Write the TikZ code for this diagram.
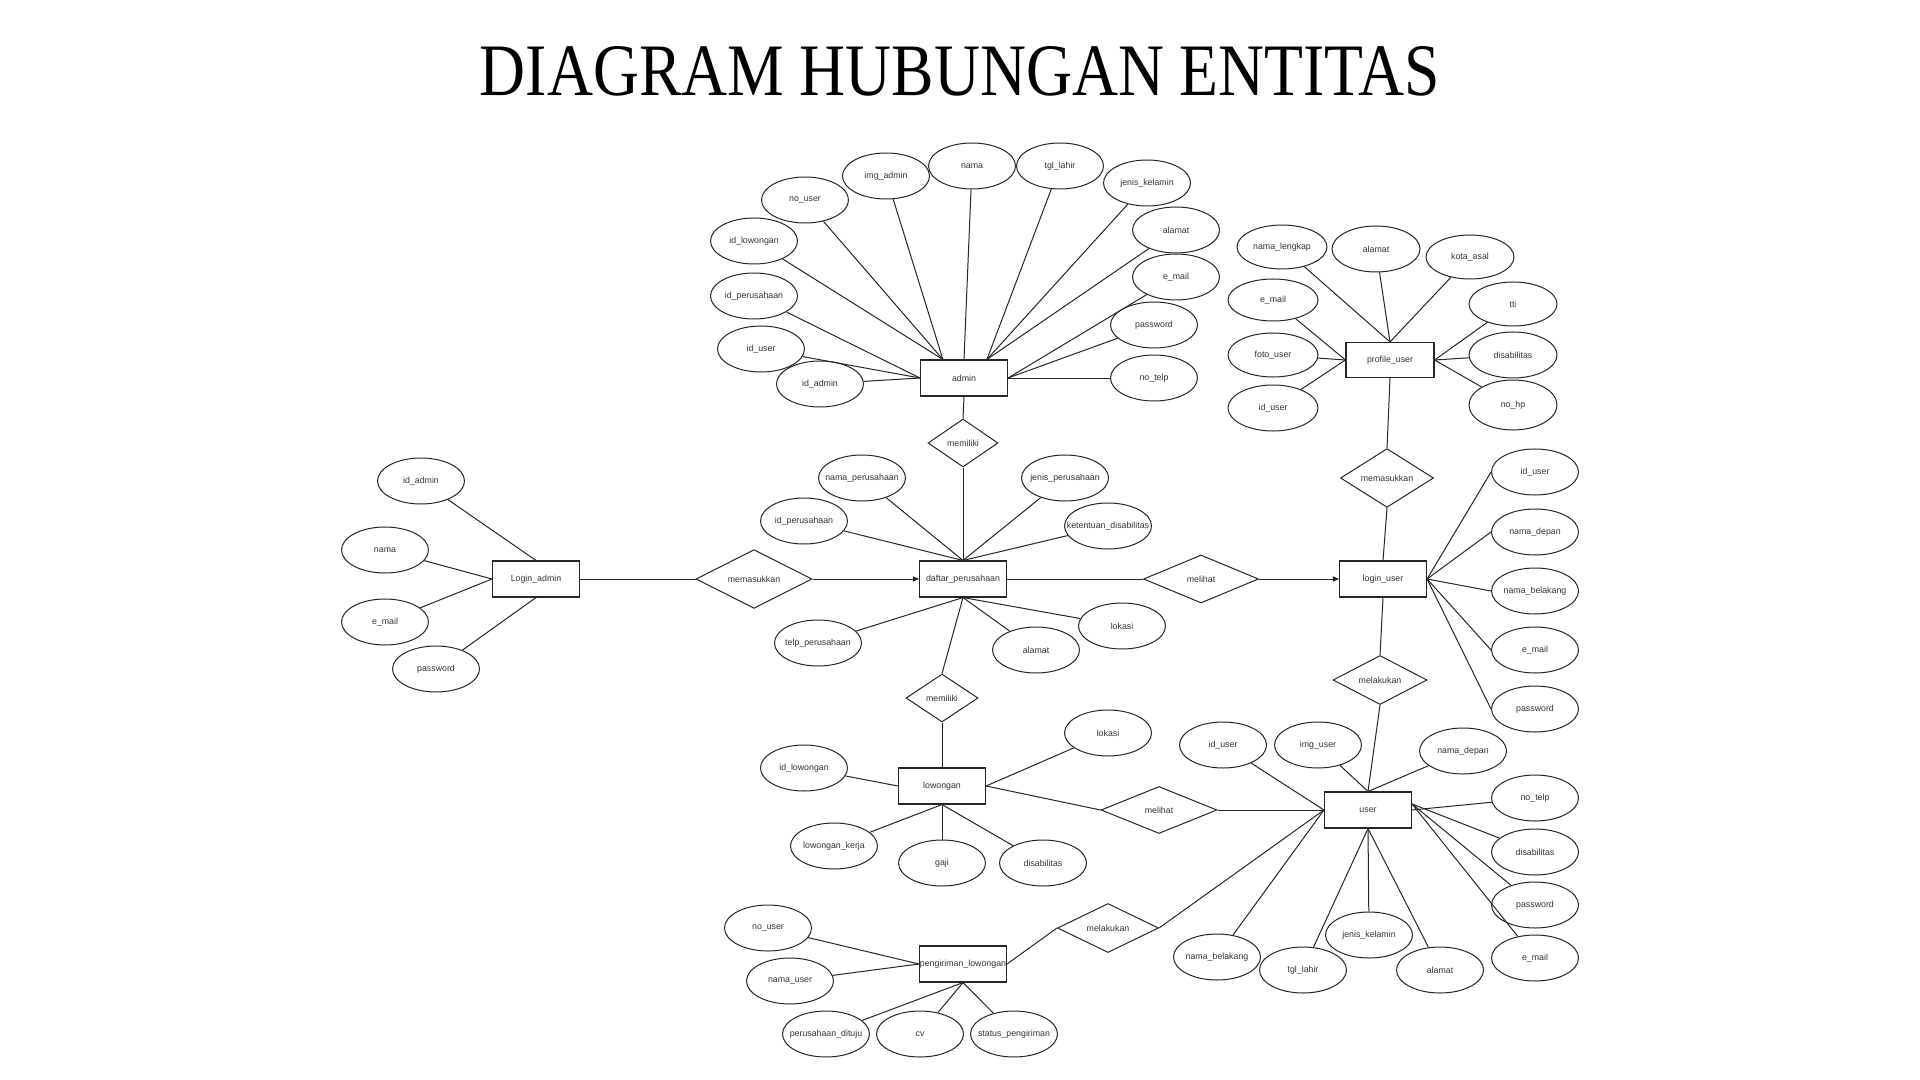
\documentclass[tikz,border=0pt]{standalone}
\usepackage{graphicx}
\usepackage{fontspec}
\setmainfont{Liberation Sans}
\newfontfamily\titlefont{Liberation Serif}
\usetikzlibrary{shapes.geometric,arrows.meta,calc}
\newcommand\erlabel[1]{\makebox[0pt]{#1}}
\begin{document}
\begin{tikzpicture}[x=0.5pt,y=-0.5pt,
  every node/.style={font=\fontsize{4.4}{5}\selectfont, text=black!80},
  attr/.style={ellipse, draw=black!85, line width=0.5pt, minimum width=43.5pt, minimum height=23pt, inner sep=0pt},
  ent/.style={rectangle, draw=black!85, line width=0.55pt, minimum width=43.5pt, minimum height=18pt, inner sep=0pt},
  rel/.style={diamond, draw=black!85, line width=0.5pt, inner sep=0pt},
  conn/.style={draw=black!85, line width=0.5pt},
  arr/.style={conn, -{Triangle[length=3pt,width=2.6pt]}}
]
\fill[white] (0,0) rectangle (1920,1080);
\useasboundingbox (0,0) rectangle (1920,1080);

% title
\node[anchor=base, font=\titlefont\fontsize{37}{40}\selectfont, text=black] (title) at (960,95.5) {\scalebox{0.86}[1]{DIAGRAM HUBUNGAN ENTITAS}};

% ---------- admin ----------
\node[ent] (admin) at (964,378) {\erlabel{admin}};
\node[attr] (adm-nama) at (972,166) {\erlabel{nama}};
\node[attr] (adm-tgl) at (1060,166) {\erlabel{tgl\_lahir}};
\node[attr] (adm-img) at (886,176) {\erlabel{img\_admin}};
\node[attr] (adm-jk) at (1147,183) {\erlabel{jenis\_kelamin}};
\node[attr] (adm-nouser) at (805,200) {\erlabel{no\_user}};
\node[attr] (adm-alamat) at (1176,230) {\erlabel{alamat}};
\node[attr] (adm-idlow) at (754,241) {\erlabel{id\_lowongan}};
\node[attr] (adm-email) at (1176,277) {\erlabel{e\_mail}};
\node[attr] (adm-idper) at (754,296) {\erlabel{id\_perusahaan}};
\node[attr] (adm-pass) at (1154,325) {\erlabel{password}};
\node[attr] (adm-iduser) at (761,349) {\erlabel{id\_user}};
\node[attr] (adm-idadmin) at (820,384) {\erlabel{id\_admin}};
\node[attr] (adm-notelp) at (1154,378) {\erlabel{no\_telp}};
\coordinate (admTL) at ($(admin.north west)!0.26!(admin.north east)$);
\coordinate (admTR) at ($(admin.north west)!0.76!(admin.north east)$);
\draw[conn] (adm-idlow) -- (admTL);
\draw[conn] (adm-nouser) -- (admTL);
\draw[conn] (adm-img) -- (admTL);
\draw[conn] (adm-nama) -- (admin.north);
\draw[conn] (adm-tgl) -- (admTR);
\draw[conn] (adm-jk) -- (admTR);
\draw[conn] (adm-alamat) -- (admTR);
\draw[conn] (adm-email) -- (admin.east);
\draw[conn] (adm-pass) -- (admin.east);
\draw[conn] (adm-notelp) -- (admin.east);
\draw[conn] (adm-idper) -- (admin.west);
\draw[conn] (adm-iduser) -- (admin.west);
\draw[conn] (adm-idadmin) -- (admin.west);

% ---------- daftar_perusahaan ----------
\node[rel, minimum width=35pt, minimum height=24pt] (memiliki1) at (963,443) {memiliki};
\node[ent] (daftar) at (963,579) {\erlabel{daftar\_perusahaan}};
\node[attr] (dp-nama) at (862,478) {\erlabel{nama\_perusahaan}};
\node[attr] (dp-jenis) at (1065,478) {\erlabel{jenis\_perusahaan}};
\node[attr] (dp-id) at (804,521) {\erlabel{id\_perusahaan}};
\node[attr] (dp-ket) at (1108,526) {\erlabel{ketentuan\_disabilitas}};
\node[attr] (dp-lokasi) at (1122,626) {\erlabel{lokasi}};
\node[attr] (dp-alamat) at (1036,650) {\erlabel{alamat}};
\node[attr] (dp-telp) at (818,643) {\erlabel{telp\_perusahaan}};
\draw[conn] (admin.south) -- (memiliki1.north);
\draw[conn] (memiliki1.south) -- (daftar.north);
\draw[conn] (dp-nama) -- (daftar.north);
\draw[conn] (dp-jenis) -- (daftar.north);
\draw[conn] (dp-id) -- (daftar.north);
\draw[conn] (dp-ket) -- (daftar.north);
\draw[conn] (dp-lokasi) -- (daftar.south);
\draw[conn] (dp-alamat) -- (daftar.south);
\draw[conn] (dp-telp) -- (daftar.south);

% ---------- Login_admin ----------
\node[ent] (ladmin) at (536,579) {\erlabel{Login\_admin}};
\node[attr] (la-id) at (421,481) {\erlabel{id\_admin}};
\node[attr] (la-nama) at (385,550) {\erlabel{nama}};
\node[attr] (la-email) at (385,622) {\erlabel{e\_mail}};
\node[attr] (la-pass) at (436,669) {\erlabel{password}};
\draw[conn] (la-id) -- (ladmin.north);
\draw[conn] (la-nama) -- (ladmin.west);
\draw[conn] (la-email) -- (ladmin.west);
\draw[conn] (la-pass) -- (ladmin.south);
\node[rel, minimum width=58pt, minimum height=24pt] (memasukkan1) at (754,579) {memasukkan};
\draw[conn] (ladmin.east) -- (memasukkan1.west);
\draw[arr] (memasukkan1.east) -- (daftar.west);

% ---------- login_user ----------
\node[rel, minimum width=57.5pt, minimum height=24pt] (melihat1) at (1201,579) {melihat};
\node[ent] (luser) at (1383,579) {\erlabel{login\_user}};
\draw[conn] (daftar.east) -- (melihat1.west);
\draw[arr] (melihat1.east) -- (luser.west);
\node[attr] (lu-id) at (1535,472) {\erlabel{id\_user}};
\node[attr] (lu-depan) at (1535,532) {\erlabel{nama\_depan}};
\node[attr] (lu-belakang) at (1535,591) {\erlabel{nama\_belakang}};
\node[attr] (lu-email) at (1535,650) {\erlabel{e\_mail}};
\node[attr] (lu-pass) at (1535,709) {\erlabel{password}};
\draw[conn] (luser.east) -- (lu-id.west);
\draw[conn] (luser.east) -- (lu-depan.west);
\draw[conn] (luser.east) -- (lu-belakang.west);
\draw[conn] (luser.east) -- (lu-email.west);
\draw[conn] (luser.east) -- (lu-pass.west);

% ---------- profile_user ----------
\node[ent, minimum width=44pt, minimum height=17.5pt] (profile) at (1390,360) {\erlabel{profile\_user}};
\node[attr, minimum width=45pt, minimum height=22pt] (pu-nama) at (1282,247) {\erlabel{nama\_lengkap}};
\node[attr, minimum width=44pt] (pu-alamat) at (1376,249) {\erlabel{alamat}};
\node[attr, minimum width=44pt, minimum height=22pt] (pu-kota) at (1470,257) {\erlabel{kota\_asal}};
\node[attr, minimum width=44pt, minimum height=22pt] (pu-tti) at (1513,304) {\erlabel{tti}};
\node[attr, minimum width=45pt, minimum height=21pt] (pu-email) at (1273,300) {\erlabel{e\_mail}};
\node[attr, minimum width=45pt, minimum height=22pt] (pu-foto) at (1273,355) {\erlabel{foto\_user}};
\node[attr, minimum width=44pt, minimum height=23pt] (pu-dis) at (1513,355) {\erlabel{disabilitas}};
\node[attr, minimum width=45pt, minimum height=23pt] (pu-id) at (1273,408) {\erlabel{id\_user}};
\node[attr, minimum width=44pt, minimum height=25pt] (pu-nohp) at (1513,405) {\erlabel{no\_hp}};
\draw[conn] (pu-nama) -- (profile.north);
\draw[conn] (pu-alamat) -- (profile.north);
\draw[conn] (pu-kota) -- (profile.north);
\draw[conn] (pu-email) -- (profile.west);
\draw[conn] (pu-foto) -- (profile.west);
\draw[conn] (pu-id) -- (profile.west);
\draw[conn] (pu-tti) -- (profile.east);
\draw[conn] (pu-dis) -- (profile.east);
\draw[conn] (pu-nohp) -- (profile.east);
\node[rel, minimum width=46.5pt, minimum height=23.5pt] (memasukkan2) at (1387,478) {memasukkan};
\draw[conn] (profile.south) -- (memasukkan2.north);
\draw[conn] (memasukkan2.south) -- (luser.north);
\node[rel, minimum width=47pt, minimum height=23.5pt] (melakukan1) at (1380,680) {melakukan};
\draw[conn] (luser.south) -- (melakukan1.north);

% ---------- lowongan ----------
\node[rel, minimum width=36pt, minimum height=24pt] (memiliki2) at (942,698) {memiliki};
\node[ent] (lowongan) at (942,786) {\erlabel{lowongan}};
\draw[conn] (daftar.south) -- (memiliki2.north);
\draw[conn] (memiliki2.south) -- (lowongan.north);
\node[attr] (lw-lokasi) at (1108,733) {\erlabel{lokasi}};
\node[attr] (lw-id) at (804,768) {\erlabel{id\_lowongan}};
\node[attr] (lw-kerja) at (834,846) {\erlabel{lowongan\_kerja}};
\node[attr] (lw-gaji) at (942,863) {\erlabel{gaji}};
\node[attr] (lw-dis) at (1043,863) {\erlabel{disabilitas}};
\draw[conn] (lw-id) -- (lowongan.west);
\draw[conn] (lw-lokasi) -- (lowongan.east);
\draw[conn] (lw-kerja) -- (lowongan.south);
\draw[conn] (lw-gaji) -- (lowongan.south);
\draw[conn] (lw-dis) -- (lowongan.south);
\node[rel, minimum width=58pt, minimum height=23.5pt] (melihat2) at (1159,810) {melihat};
\draw[conn] (lowongan.east) -- (melihat2.west);

% ---------- user ----------
\node[ent] (user) at (1368,810) {\erlabel{user}};
\draw[conn] (melihat2.east) -- (user.west);
\draw[conn] (melakukan1.south) -- (user.north);
\node[attr] (us-id) at (1223,745) {\erlabel{id\_user}};
\node[attr] (us-img) at (1318,745) {\erlabel{img\_user}};
\node[attr] (us-depan) at (1463,751) {\erlabel{nama\_depan}};
\node[attr] (us-telp) at (1535,798) {\erlabel{no\_telp}};
\node[attr] (us-dis) at (1535,852) {\erlabel{disabilitas}};
\node[attr] (us-pass) at (1535,905) {\erlabel{password}};
\node[attr] (us-email) at (1535,958) {\erlabel{e\_mail}};
\node[attr] (us-jk) at (1369,935) {\erlabel{jenis\_kelamin}};
\node[attr] (us-belakang) at (1217,957) {\erlabel{nama\_belakang}};
\node[attr] (us-tgl) at (1303,970) {\erlabel{tgl\_lahir}};
\node[attr] (us-alamat) at (1440,970) {\erlabel{alamat}};
\coordinate (usR) at ($(user.east)+(0,3pt)$);
\draw[conn] (us-id) -- (user.west);
\draw[conn] (us-img) -- (user.north);
\draw[conn] (us-depan) -- (user.north);
\draw[conn] (us-telp) -- (user.east);
\draw[conn] (us-dis) -- (usR);
\draw[conn] (us-pass) -- (usR);
\draw[conn] (us-email) -- (usR);
\draw[conn] (us-belakang) -- (user.west);
\draw[conn] (us-tgl) -- (user.south);
\draw[conn] (us-jk) -- (user.south);
\draw[conn] (us-alamat) -- (user.south);

% ---------- pengiriman_lowongan ----------
\node[rel, minimum width=50.5pt, minimum height=23.5pt] (melakukan2) at (1108,928) {melakukan};
\node[ent] (kirim) at (963,964) {\erlabel{pengiriman\_lowongan}};
\draw[conn] (user.west) -- (melakukan2.east);
\draw[conn] (kirim.east) -- (melakukan2.west);
\node[attr] (pk-nouser) at (768,928) {\erlabel{no\_user}};
\node[attr] (pk-nama) at (790,981) {\erlabel{nama\_user}};
\node[attr] (pk-tuju) at (826,1034) {\erlabel{perusahaan\_dituju}};
\node[attr] (pk-cv) at (920,1034) {\erlabel{cv}};
\node[attr] (pk-status) at (1014,1034) {\erlabel{status\_pengiriman}};
\draw[conn] (pk-nouser) -- (kirim.west);
\draw[conn] (pk-nama) -- (kirim.west);
\draw[conn] (pk-tuju) -- (kirim.south);
\draw[conn] (pk-cv) -- (kirim.south);
\draw[conn] (pk-status) -- (kirim.south);
\end{tikzpicture}
\end{document}
